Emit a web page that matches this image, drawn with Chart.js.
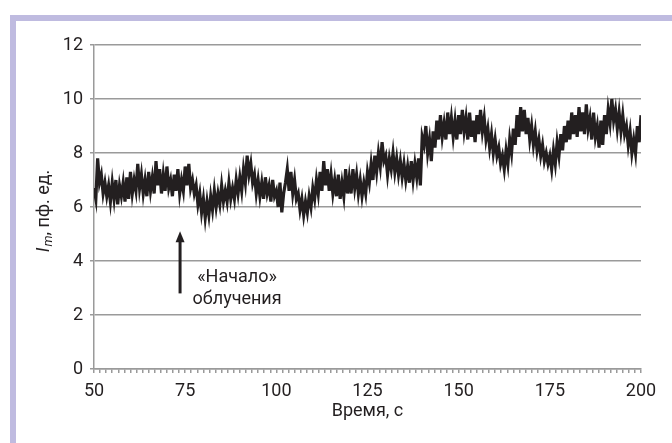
<!DOCTYPE html>
<html>
<head>
<meta charset="utf-8">
<script src="https://cdn.jsdelivr.net/npm/chart.js@4.4.1/dist/chart.umd.min.js"></script>
<style>
  html, body { margin: 0; padding: 0; background: #fff; }
  #wrap { width: 672px; height: 443px; }
</style>
</head>
<body>
<div id="wrap"><canvas id="imChart" width="672" height="443"></canvas></div>
<script>
// time axis: samples every 0.5 s starting at 50 s
const timeStart = 50;
const timeStep = 0.5;

// I_m, two samples per second (50.0 ... 200.0)
const intensity = [
  6.7, 6.3, 7.8, 6.9,   7.2, 6.5, 6.9, 6.4,   6.8, 6.2, 6.9, 6.3,   7.0, 6.1, 6.8, 6.4,
  6.9, 6.2, 7.1, 6.3,   7.3, 6.5, 7.0, 6.6,   7.6, 6.7, 7.2, 6.5,   7.0, 6.4, 7.3, 6.6,
  7.1, 6.5, 7.7, 6.8,   7.4, 6.5, 7.2, 6.6,   7.5, 6.7, 7.0, 6.4,   7.2, 6.6, 7.4, 6.5,
  7.0, 6.6, 7.5, 6.8,   7.6, 6.7, 7.0, 6.5,   6.8, 6.1, 6.5, 5.8,   6.3, 5.6, 6.2, 5.7,
  6.4, 5.9, 6.6, 6.0,   6.5, 6.1, 6.8, 6.2,   6.6, 6.2, 6.9, 6.3,   6.7, 6.3, 7.0, 6.5,
  7.1, 6.6, 7.4, 6.9,   7.9, 7.2, 7.6, 6.9,   7.2, 6.5, 7.0, 6.4,   6.9, 6.3, 7.1, 6.5,
  6.8, 6.2, 7.0, 6.4,   6.6, 6.0, 6.9, 5.8,   6.5, 6.9, 7.4, 6.6,   7.3, 6.5, 7.0, 6.3,
  6.5, 5.9, 6.3, 5.7,   6.2, 5.8, 6.4, 6.0,   6.7, 6.3, 7.0, 6.5,   7.3, 6.6, 7.7, 6.8,
  7.4, 6.6, 7.2, 6.5,   7.0, 6.4, 7.2, 6.3,   6.9, 6.4, 7.4, 6.5,   7.1, 6.5, 7.4, 6.7,
  7.2, 6.5, 7.0, 6.4,   6.9, 6.5, 7.3, 6.9,   7.6, 7.0, 7.9, 7.3,   8.0, 7.5, 8.4, 7.7,
  7.9, 7.2, 7.8, 7.4,   8.0, 7.3, 7.8, 7.2,   7.7, 7.1, 7.6, 7.0,   7.5, 6.9, 7.7, 7.0,
  7.6, 7.1, 7.8, 6.8,   8.6, 8.3, 9.0, 8.0,   8.5, 7.7, 8.8, 8.2,   9.2, 8.5, 9.4, 8.6,
  9.1, 8.5, 9.5, 8.7,   9.3, 8.6, 9.2, 8.5,   9.4, 8.7, 9.6, 8.8,   9.3, 8.5, 9.5, 8.6,
  9.2, 8.4, 9.4, 8.7,   9.6, 8.8, 9.3, 8.5,   8.9, 8.2, 8.7, 8.0,   8.5, 7.9, 8.2, 7.6,
  7.9, 7.4, 8.1, 7.6,   8.5, 8.0, 8.9, 8.3,   9.4, 8.6, 9.7, 8.8,   9.6, 8.7, 9.3, 8.5,
  9.0, 8.3, 8.8, 8.1,   8.5, 7.9, 8.3, 7.7,   8.0, 7.6, 7.9, 7.4,   8.1, 7.6, 8.4, 7.9,
  8.7, 8.1, 9.0, 8.4,   9.2, 8.5, 9.5, 8.7,   9.4, 8.6, 9.7, 8.8,   9.5, 8.7, 9.8, 8.9,
  9.3, 8.5, 9.5, 8.6,   9.0, 8.2, 9.2, 8.3,   9.4, 8.7, 9.6, 9.1,   10.0, 9.2, 9.6, 8.9,
  9.5, 8.8, 9.4, 8.7,   9.0, 8.3, 8.8, 8.0,   8.5, 8.0, 9.0, 8.4,   9.4
];

const xTickLabels = [50, 75, 100, 125, 150, 175, 200];
const yTickLabels = [0, 2, 4, 6, 8, 10, 12];
const xMinorStep = 25 / 15;

const xTitle = 'Время, с';
const yTitleParts = ['I', 'm', ', пф. ед.'];

// "start of irradiation" marker
const markerTime = 73.6;
const markerFrom = 2.8;
const markerTo = 5.1;
const markerLines = ['«Начало»', 'облучения'];

const FONT = "Roboto, 'Liberation Sans', sans-serif";
const GRID = '#9a9a9a';
const INK = '#231f20';

const points = intensity.map((v, i) => ({ x: timeStart + i * timeStep, y: v }));

const decorPlugin = {
  id: 'decor',
  beforeDraw(chart) {
    const c = chart.ctx;
    c.save();
    c.fillStyle = '#fff';
    c.fillRect(0, 0, chart.width, chart.height);
    // lavender frame (only top and left edges fall inside the picture)
    c.fillStyle = '#bfbbe0';
    c.fillRect(10, 15, chart.width - 10, 6);
    c.fillRect(10, 15, 6, chart.height - 15);
    c.restore();
  },
  afterDraw(chart) {
    const c = chart.ctx;
    const xs = chart.scales.x, ys = chart.scales.y;
    const area = chart.chartArea;
    c.save();
    c.fillStyle = INK;
    c.textBaseline = 'middle';

    // x title
    c.font = '18px ' + FONT;
    c.textAlign = 'center';
    c.fillText(xTitle, (area.left + area.right) / 2, 411);

    // y title, rotated, italic I with subscript m
    const big = '18px ' + FONT, bigIt = 'italic 18px ' + FONT, small = 'italic 13px ' + FONT;
    c.font = bigIt; const w0 = c.measureText(yTitleParts[0]).width;
    c.font = small; const w1 = c.measureText(yTitleParts[1]).width;
    c.font = big; const w2 = c.measureText(yTitleParts[2]).width;
    const total = w0 + w1 + w2 + 1;
    c.translate(44, 211);
    c.rotate(-Math.PI / 2);
    c.textAlign = 'left';
    let px = -total / 2;
    c.font = bigIt; c.fillText(yTitleParts[0], px, 0); px += w0 + 1;
    c.font = small; c.fillText(yTitleParts[1], px, 5); px += w1;
    c.font = big; c.fillText(yTitleParts[2], px, 0);
    c.setTransform(1, 0, 0, 1, 0, 0);

    // arrow
    const ax = xs.getPixelForValue(markerTime);
    const ay1 = ys.getPixelForValue(markerFrom);
    const ay2 = ys.getPixelForValue(markerTo);
    c.strokeStyle = INK;
    c.lineWidth = 3;
    c.beginPath();
    c.moveTo(ax, ay1);
    c.lineTo(ax, ay2 + 8);
    c.stroke();
    c.beginPath();
    c.moveTo(ax, ay2);
    c.lineTo(ax - 4.5, ay2 + 11);
    c.lineTo(ax + 4.5, ay2 + 11);
    c.closePath();
    c.fill();

    // marker label
    c.font = '18px ' + FONT;
    c.textAlign = 'center';
    const lx = ax + 57;
    c.fillText(markerLines[0], lx, ay1 - 16);
    c.fillText(markerLines[1], lx, ay1 + 6);
    c.restore();
  }
};

new Chart(document.getElementById('imChart'), {
  type: 'line',
  data: {
    datasets: [{
      data: points,
      borderColor: INK,
      borderWidth: 3.2,
      pointRadius: 0,
      tension: 0,
      fill: false
    }]
  },
  options: {
    responsive: false,
    animation: false,
    devicePixelRatio: 1,
    layout: { padding: { top: 45, right: 31, bottom: 0, left: 0 } },
    plugins: { legend: { display: false }, tooltip: { enabled: false } },
    scales: {
      x: {
        type: 'linear',
        min: 50,
        max: 200,
        afterBuildTicks(scale) {
          const t = [];
          for (let k = 0; k <= 90; k++) t.push({ value: 50 + k * xMinorStep });
          scale.ticks = t;
        },
        afterFit(scale) { scale.height = 74; },
        ticks: {
          autoSkip: false,
          maxRotation: 0,
          padding: 8,
          color: INK,
          font: { size: 18, family: FONT },
          callback(v) {
            const hit = xTickLabels.find(l => Math.abs(l - v) < 1e-6);
            return hit === undefined ? '' : String(hit);
          }
        },
        grid: { drawOnChartArea: false, color: GRID, lineWidth: 1.5, tickLength: 4 },
        border: { color: GRID, width: 1.5 }
      },
      y: {
        min: 0,
        max: 12,
        afterBuildTicks(scale) { scale.ticks = yTickLabels.map(v => ({ value: v })); },
        afterFit(scale) { scale.width = 94; },
        ticks: {
          padding: 7,
          color: INK,
          font: { size: 18, family: FONT }
        },
        grid: { color: GRID, lineWidth: 1.5, tickLength: 4 },
        border: { color: GRID, width: 1.5 }
      }
    }
  },
  plugins: [decorPlugin]
});
</script>
</body>
</html>
